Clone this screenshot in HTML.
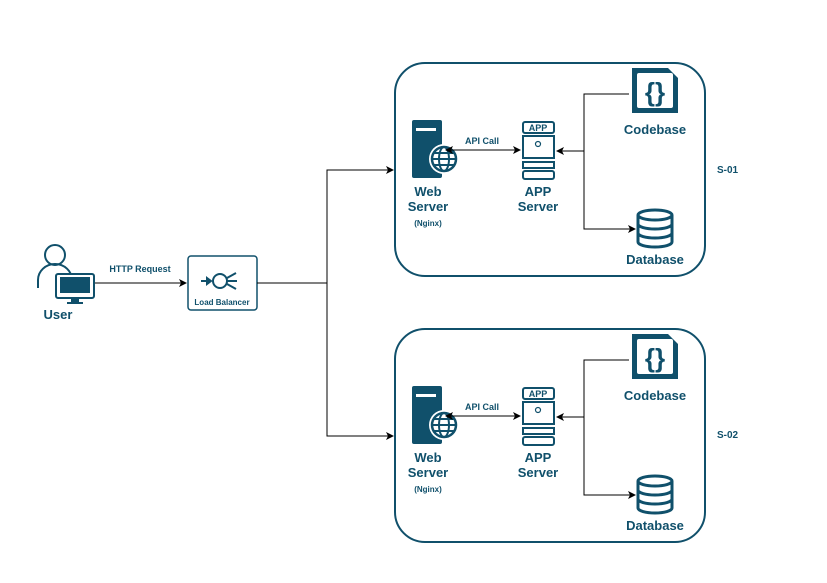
<!DOCTYPE html>
<html><head><style>body{margin:0;background:#fff}svg{display:block}text{font-family:"Liberation Sans",sans-serif;font-weight:bold;fill:#10506b}</style></head><body>
<svg width="827" height="583" viewBox="0 0 827 583" xmlns="http://www.w3.org/2000/svg">
<defs>
<marker id="a" markerWidth="8" markerHeight="8" refX="7" refY="4" orient="auto-start-reverse" markerUnits="userSpaceOnUse"><path d="M0,0 L8,4 L0,8 L2,4z" fill="#000"/></marker>
<g id="srv">
<rect x="395" y="63" width="310" height="213" rx="30" fill="none" stroke="#10506b" stroke-width="2"/>
<rect x="412" y="120" width="30" height="58" rx="2" fill="#10506b"/>
<rect x="416" y="128" width="20" height="3" fill="#fff"/>
<circle cx="444" cy="159" r="15" fill="#fff"/>
<circle cx="444" cy="159" r="12" fill="none" stroke="#10506b" stroke-width="2.5"/>
<ellipse cx="444" cy="159" rx="5" ry="12" fill="none" stroke="#10506b" stroke-width="2"/>
<path d="M432,159H456M434,153H454M434,165H454" stroke="#10506b" stroke-width="2"/>
<text x="428" y="196" font-size="13" text-anchor="middle">Web</text>
<text x="428" y="211" font-size="13" text-anchor="middle">Server</text>
<text x="428" y="226" font-size="8" text-anchor="middle">(Nginx)</text>
<g fill="none" stroke="#10506b" stroke-width="2">
<rect x="523" y="122" width="31" height="11" rx="2"/>
<rect x="523" y="136" width="31" height="22"/>
<rect x="523" y="162" width="31" height="6"/>
<rect x="523" y="171" width="31" height="8" rx="2"/>
<circle cx="538" cy="144" r="2.5" stroke-width="1.2"/>
</g>
<text x="538" y="131" font-size="9" font-weight="normal" text-anchor="middle">APP</text>
<text x="538" y="196" font-size="13" text-anchor="middle">APP</text>
<text x="538" y="211" font-size="13" text-anchor="middle">Server</text>
<path d="M632,68H668L678,78V113H632Z" fill="#10506b"/>
<rect x="637" y="73" width="36" height="35" rx="2" fill="#fff"/>
<text x="655" y="101" font-size="26" text-anchor="middle">{}</text>
<text x="655" y="134" font-size="13" text-anchor="middle">Codebase</text>
<g fill="none" stroke="#10506b" stroke-width="3">
<ellipse cx="655" cy="215" rx="17" ry="5"/>
<path d="M638,215V242A17,5 0 0 0 672,242V215M638,224A17,5 0 0 0 672,224M638,233A17,5 0 0 0 672,233"/>
</g>
<text x="655" y="264" font-size="13" text-anchor="middle">Database</text>
<path d="M629,94H584V229H635" fill="none" stroke="#000" stroke-width="1" marker-end="url(#a)"/>
<path d="M584,151H557" fill="none" stroke="#000" stroke-width="1" marker-end="url(#a)"/>
<path d="M446,150H520" fill="none" stroke="#000" stroke-width="1" marker-start="url(#a)" marker-end="url(#a)"/>
<text x="482" y="144" font-size="9" text-anchor="middle">API Call</text>
</g>
</defs>
<use href="#srv"/>
<use href="#srv" y="266"/>
<text x="717" y="173" font-size="10">S-01</text>
<text x="717" y="438" font-size="10">S-02</text>
<g fill="none" stroke="#10506b" stroke-width="2">
<circle cx="55" cy="255" r="10"/>
<path d="M38,288V280A17,16 0 0 1 72,280"/>
</g>
<rect x="56" y="274" width="38" height="24" rx="2" fill="#fff" stroke="#10506b" stroke-width="2"/>
<rect x="60" y="277" width="30" height="16" fill="#10506b"/>
<path d="M71,298V302H67V304H83V302H79V298" fill="#10506b"/>
<text x="58" y="319" font-size="13" text-anchor="middle">User</text>
<path d="M95,283H186" stroke="#000" marker-end="url(#a)"/>
<text x="140" y="272" font-size="9" text-anchor="middle">HTTP Request</text>
<rect x="188" y="256" width="69" height="54" rx="3" fill="none" stroke="#10506b" stroke-width="1.5"/>
<g stroke="#10506b" stroke-width="2" fill="none">
<path d="M201,281H208"/><path d="M207,278L211,281L207,284Z" fill="#10506b"/>
<circle cx="220" cy="281" r="7"/>
<path d="M227,278L236,273M227,281H237M227,284L236,289"/>
</g>
<text x="222" y="305" font-size="8" font-weight="normal" text-anchor="middle">Load Balancer</text>
<path d="M257,283H327V170H393" fill="none" stroke="#000" marker-end="url(#a)"/>
<path d="M327,283V436H393" fill="none" stroke="#000" marker-end="url(#a)"/>
</svg>
</body></html>
